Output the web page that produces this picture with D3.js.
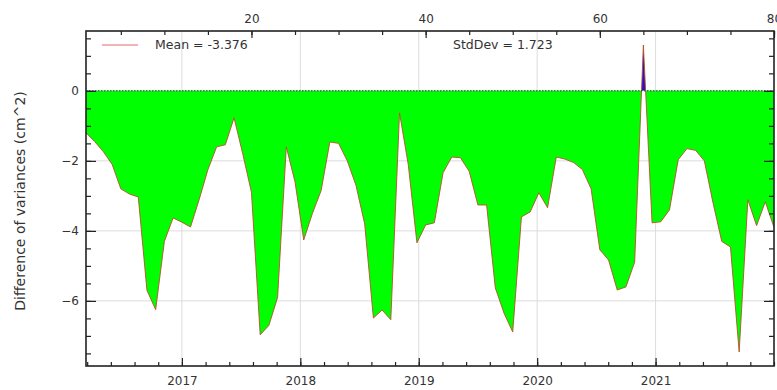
<!DOCTYPE html>
<html>
<head>
<meta charset="utf-8">
<script src="https://cdn.jsdelivr.net/npm/d3@7"></script>
<style>
body { margin: 0; background: #fff; }
text { font-family: "DejaVu Sans", sans-serif; }
</style>
</head>
<body>
<div id="chart"></div>
<script>
// difference of variances, one value per sample (index 1..80)
var values = [-1.2, -1.45, -1.74, -2.1, -2.8, -2.95, -3.03, -5.7, -6.25, -4.3,
    -3.63, -3.75, -3.89, -3.1, -2.25, -1.6, -1.54, -0.77, -1.8, -2.9,
    -6.97, -6.7, -5.9, -1.6, -2.6, -4.26, -3.5, -2.85, -1.46, -1.5,
    -2.0, -2.7, -3.8, -6.49, -6.26, -6.54, -0.63, -2.1, -4.34, -3.83,
    -3.77, -2.34, -1.89, -1.91, -2.3, -3.26, -3.26, -5.63, -6.35, -6.89,
    -3.6, -3.46, -2.91, -3.34, -1.89, -1.95, -2.05, -2.25, -2.8, -4.54,
    -4.83, -5.69, -5.6, -4.89, 1.31, -3.77, -3.74, -3.4, -1.97, -1.65,
    -1.7, -2.0, -3.2, -4.3, -4.46, -7.46, -3.11, -3.85, -3.17, -3.9];
var yearTicks = [2017, 2018, 2019, 2020, 2021];
var indexTicks = [20, 40, 60, 80];
var yLabelTicks = [0, -2, -4, -6];
var meanLabel = "Mean = -3.376";
var stdLabel = "StdDev = 1.723";
var yTitle = "Difference of variances (cm^2)";

var width = 777, height = 390;
var plotL = 86, plotR = 774, plotT = 31, plotB = 366;

var svg = d3.select("#chart").append("svg")
    .attr("width", width)
    .attr("height", height);

var xIndex = d3.scaleLinear().domain([1, 80]).range([plotL, plotR]);
var xYear = d3.scaleLinear().domain([2016.19, 2022.0]).range([plotL, plotR]);
var y = d3.scaleLinear().domain([-7.86, 1.71]).range([plotB, plotT]);

var yMinor = d3.range(-15, 4).map(function(i) { return i * 0.5; });
var yearMinor = d3.range(0, 30).map(function(i) { return 2016.2 + i * 0.2; })
    .filter(function(v) { return v <= 2022; });
var indexMinor = d3.range(1, 17).map(function(i) { return i * 5; });

// grid
var grid = svg.append("g").attr("stroke", "#dcdcdc").attr("stroke-width", 1);
grid.selectAll(".gx").data(yearTicks).enter().append("line")
    .attr("x1", function(d) { return xYear(d); })
    .attr("x2", function(d) { return xYear(d); })
    .attr("y1", plotT).attr("y2", plotB);
grid.selectAll(".gy").data([-2, -4, -6]).enter().append("line")
    .attr("x1", plotL).attr("x2", plotR)
    .attr("y1", function(d) { return y(d); })
    .attr("y2", function(d) { return y(d); });

// clip above / below zero
var defs = svg.append("defs");
defs.append("clipPath").attr("id", "below").append("rect")
    .attr("x", plotL).attr("y", y(0)).attr("width", plotR - plotL).attr("height", plotB - y(0));
defs.append("clipPath").attr("id", "above").append("rect")
    .attr("x", plotL).attr("y", plotT).attr("width", plotR - plotL).attr("height", y(0) - plotT);

var area = d3.area()
    .x(function(d, i) { return xIndex(i + 1); })
    .y0(y(0))
    .y1(function(d) { return y(d); });

svg.append("path").datum(values)
    .attr("clip-path", "url(#below)")
    .attr("d", area)
    .attr("fill", "#00ff00");
svg.append("path").datum(values)
    .attr("clip-path", "url(#above)")
    .attr("d", area)
    .attr("fill", "#2a10c8");

var line = d3.line()
    .x(function(d, i) { return xIndex(i + 1); })
    .y(function(d) { return y(d); });
svg.append("path").datum(values)
    .attr("d", line)
    .attr("fill", "none")
    .attr("stroke", "#b8502a")
    .attr("stroke-width", 0.9);

// zero line
svg.append("line")
    .attr("x1", plotL).attr("x2", plotR)
    .attr("y1", y(0)).attr("y2", y(0))
    .attr("stroke", "#0a4a0a")
    .attr("stroke-width", 1)
    .attr("stroke-dasharray", "1.5,1.5");

// axes
function styleAxis(g) {
    g.select(".domain").remove();
    g.selectAll(".tick line").attr("stroke", "#222").attr("stroke-width", 1.2);
    g.selectAll(".tick text").attr("fill", "#333").style("font-size", "12px")
        .style("font-family", "DejaVu Sans, sans-serif");
}

svg.append("g").attr("transform", "translate(" + plotL + ",0)")
    .call(d3.axisLeft(y).tickValues(yMinor).tickSize(-5).tickFormat(""))
    .call(styleAxis);
svg.append("g").attr("transform", "translate(" + plotL + ",0)")
    .call(d3.axisLeft(y).tickValues(yLabelTicks).tickSize(-10).tickPadding(7).tickFormat(d3.format("d")))
    .call(styleAxis);
svg.append("g").attr("transform", "translate(" + plotR + ",0)")
    .call(d3.axisRight(y).tickValues(yMinor).tickSize(-5).tickFormat(""))
    .call(styleAxis);
svg.append("g").attr("transform", "translate(" + plotR + ",0)")
    .call(d3.axisRight(y).tickValues(yLabelTicks).tickSize(-10).tickFormat(""))
    .call(styleAxis);

svg.append("g").attr("transform", "translate(0," + plotB + ")")
    .call(d3.axisBottom(xYear).tickValues(yearMinor).tickSize(-4).tickFormat(""))
    .call(styleAxis);
svg.append("g").attr("transform", "translate(0," + plotB + ")")
    .call(d3.axisBottom(xYear).tickValues(yearTicks).tickSize(-8).tickPadding(10).tickFormat(d3.format("d")))
    .call(styleAxis);

svg.append("g").attr("transform", "translate(0," + plotT + ")")
    .call(d3.axisTop(xIndex).tickValues(indexMinor).tickSize(-4).tickFormat(""))
    .call(styleAxis);
svg.append("g").attr("transform", "translate(0," + plotT + ")")
    .call(d3.axisTop(xIndex).tickValues(indexTicks).tickSize(-7).tickPadding(8).tickFormat(d3.format("d")))
    .call(styleAxis);

// frame
svg.append("rect")
    .attr("x", plotL).attr("y", plotT)
    .attr("width", plotR - plotL).attr("height", plotB - plotT)
    .attr("fill", "none")
    .attr("stroke", "#222")
    .attr("stroke-width", 1.6);

// legend
svg.append("line")
    .attr("x1", 102).attr("x2", 138).attr("y1", 45).attr("y2", 45)
    .attr("stroke", "#e06a6a").attr("stroke-width", 1);
svg.append("text").attr("x", 155).attr("y", 49)
    .attr("fill", "#333").style("font-size", "12.5px").text(meanLabel);
svg.append("text").attr("x", 453).attr("y", 49)
    .attr("fill", "#333").style("font-size", "12.5px").text(stdLabel);

// y title
svg.append("text")
    .attr("transform", "translate(25,201) rotate(-90)")
    .attr("text-anchor", "middle")
    .attr("fill", "#333")
    .style("font-size", "14px")
    .text(yTitle);
</script>
</body>
</html>
